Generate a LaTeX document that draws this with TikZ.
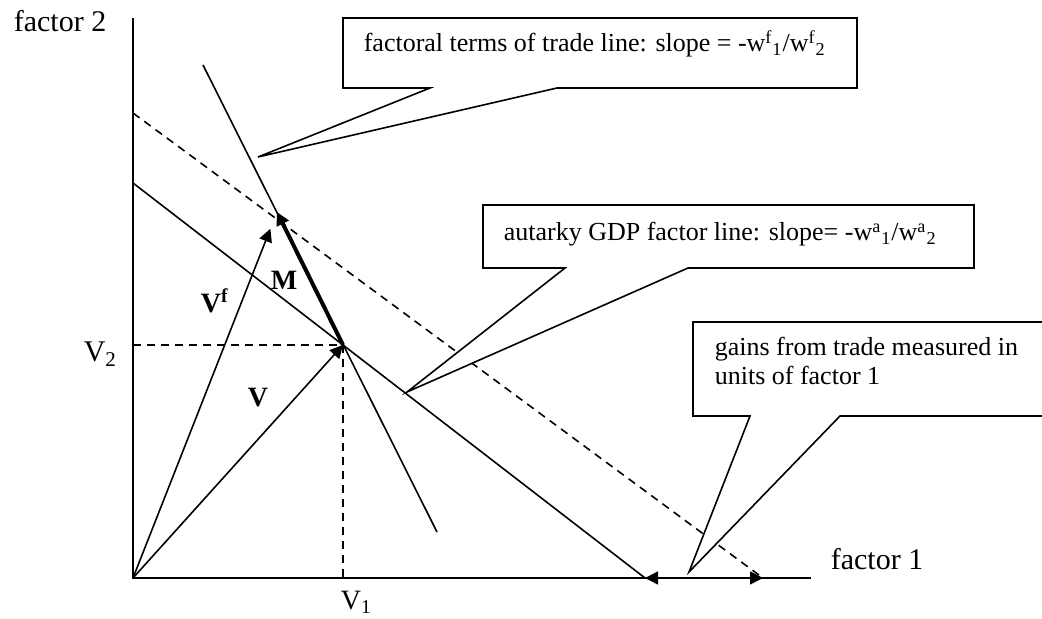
\documentclass[tikz,border=0pt]{standalone}
\usepackage{fontspec}
\setmainfont{Liberation Serif}
\usetikzlibrary{arrows.meta,positioning}

\begin{document}
\begin{tikzpicture}[x=0.5pt, y=-0.5pt, line width=0.8pt,
                    >={Triangle[length=6.5pt,width=6.5pt]}]
\tikzstyle{every node}=[inner sep=0pt, font=\fontsize{13}{15}\selectfont]
\tikzstyle{axislabel}=[anchor=base west, font=\fontsize{15}{18}\selectfont]
\tikzstyle{veclabel}=[anchor=base west, font=\fontsize{14}{17}\selectfont\bfseries]
\tikzstyle{guide}=[dash pattern=on 4pt off 3pt]
\tikzstyle{callout}=[fill=white, line join=miter]
\clip (0,0) rectangle (1042,619);
% points
\coordinate (O) at (133,578);
\coordinate (Ytop) at (133,18);
\coordinate (Xend) at (811,578);
\coordinate (V) at (343,345);
\coordinate (Vf) at (277,212);
\coordinate (V1) at (343,578);
\coordinate (V2) at (133,345);
\coordinate (Aa) at (133,183);
\coordinate (Ab) at (645,578);
\coordinate (Fa) at (133,113);
\coordinate (Fb) at (763,578);
\coordinate (Sa) at (203,65);
\coordinate (Sb) at (437,532);
% lines
\draw[line width=1pt] (Ytop) -- (O) -- (Xend);
\draw (Aa) -- (Ab);
\draw[guide] (Fa) -- (Fb);
\draw (Sa) -- (Sb);
\draw[guide] (V2) -- (V) -- (V1);
\draw[->] (O) -- (V);
\draw[->, shorten >=9pt] (O) -- (Vf);
\draw[->, line width=2pt] (V) -- (Vf);
\draw[<->] (Ab) -- (Fb);
% labels
\node[axislabel] (f2) at (13,32) {factor 2};
\node[axislabel] (f1) at (830,569) {factor 1};
\node[axislabel] (v2) at (83,362) {V\textsubscript{2}};
\node[anchor=base west, font=\fontsize{14}{16}\selectfont] (v1) at (340,609) {V\textsubscript{1}};
\node[veclabel] (lv) at (247,407) {V};
\node[veclabel] (lvf) at (200,313) {V\textsuperscript{f}};
\node[veclabel] (lm) at (270,290) {M};
% callouts
\draw[callout] (343,88) -- (343,18) -- (857,18) -- (857,88) -- (557,88) -- (258,157) -- (430,88) -- cycle;
\node[anchor=base west] (t1) at (363,52)
  {factoral terms of trade line: slope = -w\textsuperscript{f}\textsubscript{1}/w\textsuperscript{f}\textsubscript{2}};
\draw[callout] (483,268) -- (483,205) -- (974,205) -- (974,268) -- (688,268) -- (407,392) -- (565,268) -- cycle;
\node[anchor=base west] (t2) at (503,241)
  {autarky GDP factor line: slope= -w\textsuperscript{a}\textsubscript{1}/w\textsuperscript{a}\textsubscript{2}};
\draw[callout] (693,416) -- (693,322) -- (1050,322) -- (1050,416) -- (840,416) -- (689,572) -- (750,416) -- cycle;
\node[anchor=base west] (t3) at (714,356) {gains from trade measured in};
\node[anchor=base west] (t4) at (714,385) {units of factor 1};
\end{tikzpicture}
\end{document}
